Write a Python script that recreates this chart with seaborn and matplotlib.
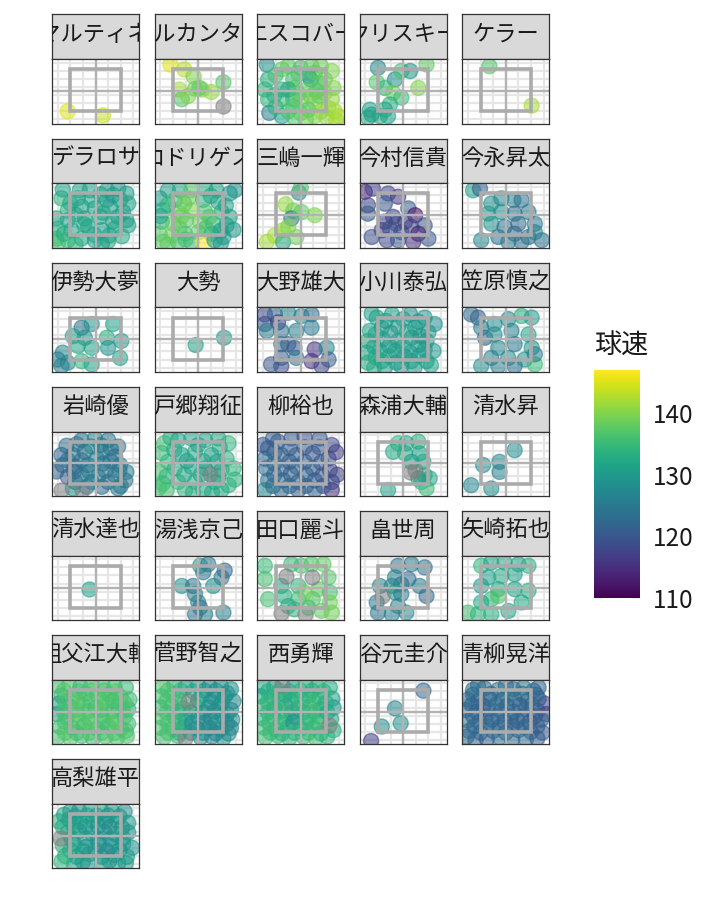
import numpy as np
import pandas as pd
import matplotlib
matplotlib.use("Agg")
import matplotlib.pyplot as plt
import seaborn as sns
from matplotlib.colors import Normalize
from matplotlib.cm import ScalarMappable
from matplotlib.patches import Rectangle

sns.set_theme(style="white")
plt.rcParams["font.family"] = ["Noto Sans CJK JP", "DejaVu Sans"]

NA = np.nan

pitchers = ["R.マルティネス", "アルカンタラ", "エスコバー", "クリスキー", "ケラー",
            "デラロサ", "ロドリゲス", "三嶋一輝", "今村信貴", "今永昇太",
            "伊勢大夢", "大勢", "大野雄大", "小川泰弘", "小笠原慎之介",
            "岩崎優", "戸郷翔征", "柳裕也", "森浦大輔", "清水昇",
            "清水達也", "湯浅京己", "田口麗斗", "畠世周", "矢崎拓也",
            "祖父江大輔", "菅野智之", "西勇輝", "谷元圭介", "青柳晃洋",
            "高梨雄平"]

# (horizontal location, vertical location, speed km/h); NA = speed missing
p01 = [(-2.2, -2.5, 145), (0.6, -3.0, 144)]
p02 = [(-2.2, 3.3, 145), (-1.1, 2.7, 143), (-0.35, 1.8, 140), (2.0, 1.1, 137),
       (-1.5, 0.2, 142), (-0.25, 0.3, 139), (0.3, 0.2, 140), (1.05, -0.1, 141),
       (-1.3, -1.0, 137), (-0.8, -0.6, 140), (2.0, -1.8, NA), (0.1, 0.4, 138)]
p03 = [(-2.7, 3.3, 128), (-2.6, 1.45, 133), (-2.85, 0.2, 134), (-1.5, 0.2, 133),
       (-2.6, -1.0, 134), (-2.5, -2.7, 126), (-1.5, -3.1, 131), (-1.5, 2.7, 138),
       (-1.0, 3.1, 138), (0.0, 2.9, 136), (0.85, 3.1, 138), (1.6, 3.1, 139),
       (2.45, 2.5, 140), (1.9, 1.45, 139), (0.8, 1.45, 130), (0.6, 1.9, 131),
       (-0.6, 1.45, 136), (-0.5, 0.4, 137), (0.45, 0.2, 138), (1.25, 0.0, 137),
       (1.9, -0.2, 140), (2.45, -1.0, 141), (-0.6, -1.0, 133), (0.0, -1.25, 139),
       (1.1, -1.45, 140), (2.2, -2.1, 141), (3.0, -3.1, 143), (2.7, -2.5, 142),
       (-1.0, -2.5, 136), (0.0, -2.7, 139), (1.1, -3.1, 140), (2.05, -3.3, 141),
       (-0.5, -3.3, 137), (0.6, -2.3, 137), (1.5, -0.6, 138), (-1.5, -1.0, 135),
       (-1.0, 0.2, 132), (1.5, 1.0, 137), (-2.0, 2.0, 136), (-0.2, 2.2, 137),
       (1.1, 2.3, 138), (-2.1, -0.5, 133), (-0.2, -0.3, 138), (0.8, -0.6, 139),
       (2.6, 0.4, 140), (-2.0, -2.0, 134), (1.6, -2.5, 141), (0.4, -3.5, 139),
       (2.8, -3.6, 142), (-0.6, -1.9, 137)]
p04 = [(-2.0, 2.9, 127), (-0.65, 1.45, 128), (-0.15, 2.5, 136), (0.55, 2.5, 129),
       (1.85, 3.3, 138), (1.2, 0.4, 140), (-2.1, 1.1, 137), (-1.45, 0.4, 134),
       (-0.8, -0.2, 139), (-0.15, -0.8, 135), (-1.05, -1.65, 133), (-1.45, -2.3, 132),
       (-2.65, -2.3, 131), (-2.8, -3.3, 133), (-1.85, -3.1, 133), (-1.2, -3.1, 131),
       (-2.5, -2.9, 130)]
p05 = [(-1.3, 3.1, 137), (2.05, -1.8, 142)]
p06 = [(-2.7, 2.1, 134), (-1.25, 3.1, 131), (-0.45, 3.1, 131), (0.9, 3.1, 131),
       (1.8, 3.3, 130), (2.45, 2.7, 130), (-1.4, 2.1, 131), (-0.3, 1.9, 132),
       (0.9, 1.9, 131), (1.95, 1.9, 132), (2.6, 1.45, 131), (-2.2, 0.6, 133),
       (-1.1, 1.05, 131), (-0.05, 0.85, 131), (1.15, 1.05, 130), (2.2, 0.4, 131),
       (-3.1, -0.4, 132), (-2.2, -0.6, 131), (-0.85, -0.4, 132), (0.35, -0.2, 131),
       (1.4, -0.8, 131), (2.45, -0.6, 130), (-3.0, -1.65, 133), (-1.9, -1.85, 131),
       (-0.6, -1.45, 131), (0.5, -1.85, 130), (1.55, -1.65, 132), (2.6, -1.25, 131),
       (-3.1, -2.9, 135), (-2.2, -3.1, 135), (-1.1, -2.9, 132), (-0.05, -3.1, 131),
       (1.0, -3.2, 132), (-3.0, -3.5, 136), (-2.6, 3.2, 131), (-2.0, 1.5, 132),
       (0.4, 2.6, 131), (1.4, 2.5, 130), (-1.6, 0.1, 131), (0.6, 0.3, 132),
       (1.8, -0.2, 131), (-2.5, -2.3, 133), (-0.1, -2.4, 131), (1.1, -2.5, 131),
       (2.1, -2.6, 132), (-1.6, -3.6, 134), (0.5, -3.6, 131), (-0.9, -1.1, 132)]
p07 = [(-3.05, 2.1, 131), (-2.4, 3.1, 130), (-1.45, 3.1, 132), (-0.55, 3.1, 137),
       (0.55, 3.3, 133), (1.45, 3.1, 131), (2.5, 2.7, 130), (-1.85, 1.9, 136),
       (-0.8, 2.1, 139), (0.4, 1.9, 134), (1.6, 1.65, 131), (-2.8, 0.6, 131),
       (-1.6, 0.4, 138), (-0.55, 0.6, 140), (0.55, 0.4, 136), (1.85, 0.4, 133),
       (2.5, -0.2, 131), (-2.9, -0.8, 134), (-2.0, -1.05, 138), (-0.95, -0.6, 137),
       (0.15, -0.8, 139), (1.2, -1.05, 134), (2.25, -1.25, 131), (-3.05, -2.3, 137),
       (-2.1, -2.5, 139), (-1.05, -2.3, 135), (0.0, -2.1, 138), (1.05, -2.3, 132),
       (2.0, -2.7, 130), (-2.8, -3.3, 138), (-1.6, -3.3, 136), (-0.55, -3.3, 135),
       (0.4, -3.3, 147), (1.3, -3.1, 131), (2.9, 3.1, 129), (-2.4, 1.3, 134),
       (-1.1, 1.4, 138), (1.0, 2.4, 132), (2.2, 1.2, 131), (-3.0, -0.1, 132),
       (-1.3, -0.1, 139), (0.9, -0.2, 137), (-1.5, -1.6, 138), (0.6, -1.6, 136),
       (1.8, -1.9, 131), (-2.4, -3.6, 138), (-1.0, -3.0, 136), (1.8, -3.5, 130),
       (2.8, -1.8, 130)]
p08 = [(-0.15, 2.8, 127), (0.0, 3.4, 137), (-1.2, 1.35, 141), (-0.6, 0.55, 139),
       (-0.75, -0.4, 124), (1.1, 0.0, 140), (-1.4, -1.85, 141), (-2.05, -2.5, 142),
       (-2.7, -3.3, 142), (-1.4, -3.3, 132), (-0.35, -2.7, 139), (-1.0, -1.45, 140),
       (0.05, 0.4, 138)]
p09 = [(-3.05, 2.9, 114), (-2.4, 3.3, 117), (-1.2, 2.7, 118), (-0.4, 2.3, 116),
       (-2.8, 1.25, 118), (-1.45, 1.45, 120), (0.4, 0.85, 121), (-2.8, 0.2, 120),
       (-0.8, -0.2, 118), (0.95, 0.0, 112), (-1.45, -0.8, 117), (-0.55, -1.05, 118),
       (0.65, -1.45, 118), (1.7, -1.25, 120), (-1.7, -1.85, 117), (-0.15, -2.1, 118),
       (1.2, -2.3, 113), (-2.5, -2.7, 119), (-1.3, -3.1, 118), (-0.4, -3.1, 120),
       (0.8, -3.3, 115), (2.0, -2.9, 120), (-1.05, -1.65, 119), (0.15, -0.8, 117)]
p10 = [(-2.6, 3.1, 131), (-2.05, 3.3, 121), (-1.15, 1.45, 128), (-0.35, 2.1, 127),
       (0.6, 1.9, 126), (1.25, 1.9, 124), (-1.4, 0.2, 130), (-0.35, 0.4, 128),
       (0.7, 0.2, 124), (1.8, 0.4, 125), (-1.15, -1.05, 129), (-0.1, -1.45, 124),
       (1.0, -1.05, 123), (2.3, -1.05, 125), (-1.95, -3.1, 127), (-0.6, -2.7, 124),
       (0.7, -2.3, 122), (1.8, -2.7, 123), (2.85, -3.1, 124), (2.3, -2.1, 126),
       (1.25, -3.3, 124), (0.2, -3.3, 125)]
p11 = [(-1.1, 1.45, 124), (-0.3, 1.9, 129), (1.4, 1.9, 131), (-1.8, 0.4, 131),
       (-0.85, 0.2, 129), (0.9, 0.2, 133), (2.05, -0.2, 130), (-2.6, -1.65, 127),
       (-1.4, -0.8, 132), (-0.3, -1.05, 131), (1.0, -1.05, 129), (1.95, -2.3, 131),
       (-3.0, -2.5, 125), (-2.2, -2.9, 128), (-1.1, -2.7, 134), (-0.3, -3.1, 131),
       (-2.7, -3.3, 126)]
p12 = [(-0.2, -0.7, 131), (2.05, 0.2, 130)]
p13 = [(-2.85, 3.1, 118), (-2.05, 3.1, 122), (-1.0, 3.3, 127), (0.05, 2.9, 126),
       (0.85, 3.1, 124), (-2.85, 1.9, 119), (-1.8, 2.1, 116), (-2.7, 1.05, 126),
       (-1.55, 1.05, 124), (-0.35, 1.05, 126), (0.85, 1.45, 125), (-1.55, -0.6, 122),
       (-0.5, -1.05, 120), (1.1, -1.25, 116), (2.05, -1.05, 127), (-1.55, -2.3, 121),
       (-0.35, -2.3, 124), (0.85, -2.7, 115), (2.2, -2.5, 121), (-1.55, -3.3, 119),
       (-2.35, -3.1, 120), (1.65, -3.3, 118), (-1.0, -0.6, 121)]
p14 = [(-2.1, 2.7, 130), (-0.9, 3.1, 131), (0.55, 3.1, 129), (1.7, 2.7, 130),
       (-2.65, 1.05, 132), (-1.7, 1.45, 130), (-0.4, 1.65, 129), (0.95, 1.45, 131),
       (2.0, 0.85, 130), (-2.8, -0.2, 133), (-1.6, 0.0, 131), (-0.4, -0.2, 130),
       (0.65, 0.2, 129), (1.85, -0.2, 130), (-2.9, -1.65, 132), (-1.85, -1.45, 131),
       (-0.65, -1.45, 130), (0.55, -1.65, 129), (1.7, -1.25, 131), (-2.8, -2.9, 133),
       (-1.7, -2.7, 132), (-0.55, -2.9, 130), (0.65, -2.7, 131), (1.85, -2.7, 130),
       (-1.45, -3.5, 131), (-0.15, -3.3, 130), (2.5, 1.9, 128), (2.4, -1.45, 129),
       (-2.5, 3.2, 131), (-1.4, 2.3, 130), (0.0, 2.5, 130), (1.2, 2.2, 129),
       (-2.2, 0.6, 131), (-1.0, 0.8, 130), (0.3, 0.9, 131), (1.4, 0.4, 129),
       (-2.3, -0.9, 131), (-1.1, -0.8, 130), (0.0, -0.9, 131), (1.2, -0.7, 130),
       (-2.2, -2.2, 132), (-1.1, -2.1, 131), (0.1, -2.1, 130), (1.3, -2.0, 130),
       (-2.3, -3.5, 132), (0.9, -3.5, 130), (2.2, -3.2, 131)]
p15 = [(-2.75, 3.1, 123), (-2.2, 2.7, 121), (-0.9, 1.9, 128), (0.2, 2.5, 127),
       (1.25, 2.9, 133), (2.05, 2.7, 130), (-1.65, 0.2, 122), (-0.9, 0.6, 128),
       (0.45, 1.05, 126), (1.8, 0.6, 131), (-0.6, -1.05, 127), (0.7, -0.6, 125),
       (2.05, -1.05, 129), (-1.15, -2.3, 126), (0.2, -2.3, 127), (1.5, -2.5, 128),
       (2.3, -3.1, 135), (-1.95, -3.3, 128), (-0.6, -3.3, 126), (0.7, -3.3, 124),
       (2.3, -1.85, 126), (-1.95, 1.45, 125)]
p16 = [(-1.1, 2.9, 124), (-0.05, 3.1, 126), (1.0, 2.9, 124), (1.8, 2.1, 125),
       (-2.7, 1.05, 122), (-1.8, 1.05, 125), (-0.85, 1.45, 124), (0.5, 1.45, 126),
       (1.55, 0.85, 123), (-2.6, -0.2, 123), (-1.65, -0.4, 120), (-0.6, -0.2, 125),
       (0.6, 0.0, 124), (1.95, -0.2, 125), (2.45, -1.05, 126), (-2.2, -1.65, 120),
       (-1.1, -1.45, 125), (0.2, -1.65, 126), (1.55, -1.45, 124), (-2.7, -3.3, NA),
       (-1.8, -3.1, 130), (-0.7, -2.9, 125), (0.5, -2.9, 123), (1.8, -3.1, 125),
       (-1.1, -3.3, NA), (2.35, -2.1, 124), (-0.3, 2.1, 127), (-2.3, 2.2, 123),
       (-1.5, 2.4, 124), (0.4, 2.3, 125), (1.2, 1.9, 124), (-2.2, 0.4, 123),
       (-1.1, 0.4, 124), (0.1, 0.6, 125), (1.2, 0.3, 124), (-1.7, -1.0, 123),
       (-0.5, -1.0, 125), (0.8, -0.9, 124), (1.9, -0.9, 125), (-1.6, -2.3, 124),
       (-0.3, -2.3, 125), (1.0, -2.3, 124), (2.0, -2.8, 125), (-3.1, -1.0, 122)]
p17 = [(-2.7, 2.5, 136), (-1.6, 2.9, 131), (-0.55, 3.1, 132), (0.55, 2.9, 131),
       (1.6, 3.1, 132), (2.4, 2.5, 134), (-2.4, 0.2, 134), (-1.3, 1.05, 131),
       (-0.25, 1.45, 132), (1.05, 1.05, 131), (2.25, 0.6, 133), (-3.05, -1.05, 136),
       (-1.85, -0.6, 133), (-0.55, -0.4, 131), (0.55, -0.6, 130), (1.85, -0.8, 132),
       (-2.8, -2.5, 135), (-1.6, -2.3, 134), (-0.25, -2.3, 133), (0.95, -1.25, NA),
       (1.3, -2.3, 131), (2.4, -2.7, 133), (-2.5, -3.3, 136), (-1.05, -3.3, 134),
       (0.4, -3.3, 132), (1.85, -3.3, 133), (2.8, -0.6, 134), (-2.2, 3.2, 133),
       (0.0, 2.3, 131), (1.7, 2.0, 132), (-2.9, 1.3, 135), (-1.9, 1.7, 132),
       (0.4, 0.3, 131), (1.5, 0.2, 131), (-0.9, 0.3, 131), (-2.5, -1.6, 134),
       (-1.1, -1.4, 132), (0.2, -1.4, 131), (1.6, -1.6, 132), (-3.1, -3.0, 136),
       (2.9, -2.0, 134), (-0.4, -3.6, 133), (1.1, -3.6, 132)]
p18 = [(-2.6, 1.9, 121), (-1.8, 2.7, 121), (-0.75, 3.1, 120), (0.3, 3.3, 119),
       (1.5, 3.1, 120), (2.45, 2.3, 118), (-2.85, 0.6, 122), (-1.55, 1.05, 122),
       (-0.35, 1.05, 121), (0.95, 1.25, 120), (2.2, 0.6, 119), (-2.75, -0.6, 123),
       (-1.55, -0.6, 121), (-0.35, -0.4, 122), (0.95, -0.6, 121), (2.3, -0.8, 118),
       (-2.6, -2.1, 124), (-1.4, -2.1, 122), (-0.2, -2.3, 121), (1.1, -2.1, 121),
       (2.45, -2.3, 120), (-2.85, -3.3, 127), (-1.55, -3.3, 122), (-0.2, -3.3, 121),
       (1.1, -3.3, 122), (2.45, -3.3, 115), (-2.2, 3.1, 121), (-3.0, 2.3, 120),
       (-2.1, 1.4, 121), (-0.9, 1.9, 121), (0.3, 2.0, 120), (1.5, 2.0, 120),
       (2.8, 1.4, 117), (-2.1, 0.0, 122), (-0.9, 0.2, 121), (0.3, 0.2, 121),
       (1.6, 0.1, 120), (-2.1, -1.4, 122), (-0.8, -1.3, 121), (0.4, -1.4, 121),
       (1.7, -1.5, 120), (2.9, -1.4, 117), (-2.2, -2.8, 123), (-0.9, -2.8, 122),
       (0.4, -2.8, 121), (1.8, -2.8, 120)]
p19 = [(-0.4, 2.5, 134), (1.2, 2.7, 133), (0.15, 1.25, 133), (-0.8, 1.45, 132),
       (1.3, 1.25, 131), (0.65, 0.2, 130), (1.6, 0.2, 132), (0.95, -0.8, NA),
       (0.5, -1.05, NA), (1.7, -1.45, 133), (1.45, -2.3, 134), (2.1, -1.85, 132),
       (1.85, -3.1, 135), (-1.2, -3.3, 131), (1.2, -1.85, 130), (0.25, 2.5, 131)]
p20 = [(0.7, 1.65, 128), (-1.8, -0.2, 128), (-0.5, 0.2, 127), (-0.5, -1.05, 126),
       (-2.75, -2.7, 127), (-1.15, -3.1, 128)]
p21 = [(-0.55, -0.2, 131)]
p22 = [(0.15, 2.7, 130), (0.8, 2.9, 125), (2.1, 2.1, 122), (1.85, 1.25, 124),
       (-1.3, 0.2, 129), (-0.4, 0.2, 124), (1.2, 0.2, 128), (-0.25, -0.8, 125),
       (0.0, -1.85, 126), (0.15, -2.5, 123), (-0.25, -3.3, 124), (0.55, -3.3, 126),
       (2.0, -3.1, 126), (0.4, 1.9, 124)]
p23 = [(-2.85, 2.7, 135), (-2.85, 1.05, 136), (-2.6, -1.45, 136), (-1.55, 0.2, 132),
       (-1.15, 1.45, NA), (0.05, 2.7, 136), (0.85, 2.9, 137), (1.8, 2.9, 138),
       (2.2, 1.25, 137), (0.85, 1.25, NA), (-0.2, 0.2, 134), (1.4, -0.2, 138),
       (2.3, -0.6, 136), (-1.3, -1.05, 133), (-0.2, -1.45, 135), (0.95, -1.45, 137),
       (2.3, -1.85, 139), (-1.55, -3.1, NA), (-0.5, -2.7, 134), (0.6, -2.5, 136),
       (1.65, -2.9, 138), (2.45, -3.1, 139), (0.3, -3.3, NA), (-1.0, -2.3, 133),
       (0.3, -0.6, 139), (-0.75, 2.9, 135)]
p24 = [(-0.4, 2.7, 124), (0.65, 2.9, 125), (1.7, 2.5, 124), (-0.65, 1.25, 126),
       (0.4, 1.05, 123), (-0.15, 0.4, 124), (-1.85, 0.2, 126), (-0.9, 0.2, 127),
       (1.3, 0.2, 125), (1.85, -1.05, 122), (-1.7, -1.05, NA), (-0.65, -0.6, 130),
       (-0.15, -0.8, 125), (-2.1, -1.85, 125), (-0.4, -2.3, 126), (-2.0, -3.1, 124),
       (-0.9, -3.3, 126), (0.25, -3.1, 127)]
p25 = [(-1.95, 2.7, 134), (-1.15, 3.1, 131), (-0.1, 3.1, 132), (1.0, 2.9, 131),
       (1.8, 2.7, 133), (-1.4, 1.25, 131), (-0.35, 1.45, 132), (0.7, 1.65, 131),
       (-1.95, 0.2, 130), (-0.6, -0.2, 132), (0.7, -0.2, 131), (1.8, -0.4, 133),
       (-1.15, -1.45, 134), (-0.6, -1.05, 137), (-1.95, -1.85, 132), (-3.0, -3.1, 136),
       (-2.2, -3.3, 134), (-1.15, -3.3, 133), (0.2, -2.9, 131), (1.25, -1.85, 132)]
p26 = [(-3.0, 3.2, 136), (-2.1, 3.3, 137), (-1.2, 3.1, 135), (-0.3, 3.3, 136),
       (0.6, 3.2, 137), (1.5, 3.1, 136), (2.4, 3.0, 135), (-2.7, 2.0, 134),
       (-1.7, 1.9, 137), (-0.8, 2.2, 136), (0.2, 1.9, 138), (1.1, 2.1, 136),
       (2.0, 1.8, 137), (2.7, 1.5, 135), (-2.9, 1.0, 130), (-2.0, 0.6, 135),
       (-1.0, 0.8, 137), (0.0, 0.5, 136), (0.9, 0.9, 137), (1.8, 0.6, 136),
       (2.6, 0.3, 134), (-3.1, -0.3, 131), (-2.3, -0.7, 136), (-1.4, -0.4, 137),
       (-0.5, -0.8, 138), (0.5, -0.5, 136), (1.4, -0.9, 137), (2.3, -0.6, 136),
       (-2.8, -1.9, 136), (-1.9, -2.0, 137), (-0.9, -1.7, 135), (0.1, -2.1, 137),
       (1.0, -1.8, 136), (2.0, -2.1, 138), (-3.0, -3.2, 136), (-2.0, -3.3, 137),
       (-1.1, -3.0, 136), (-0.2, -3.3, 135), (0.8, -3.1, 137), (1.7, -3.3, 136),
       (2.5, -3.0, 137), (-2.5, 2.6, 137), (-1.3, 2.5, 136), (-0.3, 2.6, 137),
       (0.7, 2.6, 136), (1.6, 2.5, 137), (-2.4, 1.3, 136), (-1.4, 1.3, 137),
       (-0.4, 1.3, 136), (0.5, 1.4, 137), (1.4, 1.3, 136), (2.3, 1.1, 137),
       (-2.5, 0.0, 136), (-1.5, 0.2, 137), (-0.5, 0.1, 136), (0.4, 0.2, 137),
       (1.4, 0.1, 136), (2.2, 0.1, 136), (-2.4, -1.3, 136), (-1.4, -1.2, 137),
       (-0.4, -1.3, 137), (0.6, -1.2, 136), (1.6, -1.3, 137), (2.6, -1.5, 136),
       (-2.4, -2.6, 137), (-1.5, -2.6, 136), (-0.5, -2.6, 137), (0.5, -2.6, 136),
       (1.5, -2.6, 137), (2.4, -2.4, 136)]
p27 = [(-2.8, 3.1, 137), (-1.9, 3.3, 135), (-1.0, 3.0, 130), (0.0, 3.2, 131),
       (0.9, 3.1, 129), (1.8, 3.2, 128), (2.6, 2.8, 129), (-2.9, 1.9, 136),
       (-2.0, 2.0, 137), (-0.8, 1.3, NA), (0.3, 2.0, 134), (1.2, 1.8, 128),
       (2.1, 1.9, 130), (2.8, 1.3, 128), (-3.0, 0.5, 135), (-2.1, 0.7, 136),
       (-1.2, 0.4, 133), (-0.2, 0.6, 136), (0.8, 0.5, 130), (1.7, 0.7, 128),
       (2.6, 0.2, 127), (-2.8, -0.8, 137), (-1.9, -0.6, 135), (-1.0, -0.9, 129),
       (0.0, -0.7, 128), (1.0, -0.8, 127), (1.9, -0.5, 129), (2.7, -1.0, 128),
       (-3.0, -2.0, 136), (-2.0, -2.2, 137), (-1.1, -1.9, 130), (-0.1, -2.1, 128),
       (0.9, -2.0, 127), (1.8, -2.2, 128), (2.6, -2.0, 126), (-2.7, -3.2, 136),
       (-1.6, -3.0, 135), (-1.05, -3.3, NA), (0.2, -3.2, 128), (1.1, -3.1, 127),
       (2.0, -3.3, 129), (-2.4, 2.6, 136), (-1.4, 2.6, 134), (-0.4, 2.5, 131),
       (0.5, 2.6, 129), (1.4, 2.6, 128), (2.3, 2.3, 128), (-2.5, 1.3, 136),
       (-1.5, 1.3, 135), (0.0, 1.4, 131), (1.0, 1.2, 128), (1.9, 1.2, 129),
       (-2.5, -0.1, 136), (-1.6, 0.0, 134), (-0.6, -0.1, 131), (0.4, -0.1, 128),
       (1.3, 0.0, 128), (2.3, -0.3, 128), (-2.4, -1.4, 136), (-1.5, -1.3, 134),
       (-0.5, -1.4, 128), (0.5, -1.4, 127), (1.4, -1.4, 128), (2.3, -1.5, 127),
       (-2.4, -2.6, 136), (-1.5, -2.6, 134), (-0.6, -2.6, 129), (0.4, -2.6, 128),
       (1.4, -2.7, 127), (2.4, -2.7, 128)]
p28 = [(-3.0, 3.1, 133), (-2.1, 3.0, 130), (-1.5, 3.3, NA), (-0.6, 3.1, 131),
       (0.4, 3.2, 134), (1.3, 3.1, 133), (2.3, 3.0, 132), (-3.2, 1.9, 131),
       (-2.3, 1.8, 134), (-1.3, 2.1, 133), (-0.4, 1.9, 135), (0.6, 2.0, 132),
       (1.5, 1.8, 134), (2.5, 1.6, 131), (-3.0, 0.6, 135), (-2.1, 0.4, 133),
       (-1.2, 0.7, 128), (-0.2, 0.4, 134), (0.7, 0.6, 135), (1.6, 0.3, 133),
       (2.6, 0.5, 130), (-3.1, -0.8, 134), (-2.2, -0.6, 135), (-1.3, -0.9, 133),
       (-0.4, -0.7, 128), (0.6, -0.8, 134), (1.5, -0.6, 135), (2.4, -0.9, 132),
       (-2.9, -2.0, 135), (-2.0, -2.2, 136), (-1.0, -1.9, 134), (0.0, -2.1, 133),
       (1.0, -2.0, 135), (2.2, -1.65, NA), (2.6, -2.3, 133), (-2.8, -3.2, 136),
       (-1.8, -3.0, 135), (-0.9, -3.3, 134), (0.2, -3.1, 135), (1.2, -3.3, 136),
       (2.1, -3.1, 134), (-2.6, 2.5, 133), (-1.7, 2.6, 134), (-0.9, 2.5, 132),
       (0.0, 2.6, 134), (0.9, 2.6, 133), (1.8, 2.5, 134), (-2.6, 1.2, 134),
       (-1.7, 1.3, 134), (-0.8, 1.3, 133), (0.1, 1.3, 134), (1.0, 1.3, 135),
       (2.0, 1.1, 133), (-2.6, -0.1, 134), (-1.6, 0.0, 135), (-0.7, -0.1, 133),
       (0.2, -0.1, 134), (1.1, 0.0, 135), (2.1, -0.1, 132), (-2.5, -1.4, 135),
       (-1.6, -1.4, 134), (-0.6, -1.3, 129), (0.4, -1.4, 134), (1.3, -1.4, 135),
       (-2.4, -2.6, 135), (-1.5, -2.7, 134), (-0.5, -2.6, 134), (0.6, -2.6, 135),
       (1.6, -2.7, 134)]
p29 = [(1.6, 2.6, 122), (-0.65, 0.4, 127), (-0.2, -1.45, 128), (-1.7, -1.85, 128),
       (-2.55, -3.65, 117)]
p30 = [(-2.6, 2.7, 124), (-1.7, 2.9, 123), (-0.6, 2.7, 124), (0.6, 2.8, 122),
       (1.4, 3.0, 125), (2.2, 2.6, 124), (-3.0, 1.5, 122), (-2.2, 1.3, 121),
       (-1.3, 1.6, 123), (-0.3, 1.4, 122), (0.7, 1.5, 123), (1.7, 1.3, 124),
       (2.6, 1.6, 121), (3.1, 1.0, 118), (-3.2, 0.2, 123), (-2.3, 0.0, 121),
       (-1.4, 0.3, 122), (-0.4, 0.1, 121), (0.6, 0.0, 123), (1.6, 0.3, 122),
       (2.5, 0.1, 120), (3.2, -0.3, 117), (-3.0, -1.1, 124), (-2.1, -1.3, 122),
       (-1.1, -1.0, 121), (-0.1, -1.2, 122), (0.9, -1.1, 123), (1.9, -1.3, 121),
       (2.8, -1.0, 122), (-2.9, -2.4, 123), (-2.0, -2.6, 121), (-1.0, -2.4, 122),
       (0.0, -2.6, 123), (1.0, -2.3, 121), (2.0, -2.5, 122), (2.9, -2.6, 120),
       (-2.4, -3.5, 122), (-1.5, -3.4, 121), (0.5, -3.5, 122), (1.6, -3.4, 123),
       (-2.2, 3.2, 123), (0.0, 3.2, 123), (2.6, 3.0, 122), (-2.6, 2.1, 123),
       (-1.2, 2.2, 122), (0.1, 2.0, 124), (1.3, 2.2, 123), (2.4, 2.1, 122),
       (-2.7, 0.8, 122), (-1.8, 0.7, 121), (-0.8, 0.8, 123), (0.1, 0.7, 122),
       (1.1, 0.8, 121), (2.1, 0.8, 122), (-2.6, -0.5, 122), (-1.6, -0.6, 121),
       (-0.6, -0.6, 123), (0.4, -0.6, 122), (1.4, -0.6, 121), (2.3, -0.6, 120),
       (-2.5, -1.8, 122), (-1.5, -1.8, 123), (-0.5, -1.9, 122), (0.5, -1.8, 121),
       (1.5, -1.9, 122), (2.5, -1.8, 121), (-3.1, -3.1, 122), (-0.5, -3.2, 123),
       (2.5, -3.3, 121)]
p31 = [(-2.0, 3.0, 130), (-1.3, 3.1, 129), (-0.4, 3.2, 131), (0.5, 3.0, 133),
       (1.3, 3.1, 130), (2.3, 3.0, 128), (-2.9, 1.8, 134), (-2.1, 2.0, 130),
       (-1.2, 1.7, 131), (-0.2, 1.9, 130), (0.8, 1.8, 129), (1.7, 1.9, 131),
       (2.6, 1.6, 130), (-2.8, -0.3, NA), (-2.2, 0.4, 133), (-1.3, 0.6, 129),
       (-0.3, 0.3, 130), (0.7, 0.5, 128), (1.6, 0.2, 130), (2.6, 0.4, 129),
       (-2.6, -1.2, 134), (-1.7, -1.0, 131), (-0.8, -1.4, 128), (0.3, -1.1, 129),
       (1.2, -1.3, 127), (2.2, -1.0, 130), (2.9, -1.5, 129), (-2.4, -2.5, 133),
       (-1.5, -2.6, 131), (-0.5, -2.3, 130), (0.5, -2.6, 129), (1.5, -2.4, 128),
       (2.5, -2.6, 130), (-1.7, -3.5, 131), (-0.6, -3.4, 129), (0.6, -3.5, 131),
       (1.8, -3.4, 130), (-2.5, 2.6, 131), (-1.6, 2.4, 130), (-0.7, 2.5, 131),
       (0.1, 2.5, 130), (1.0, 2.5, 129), (1.9, 2.4, 130), (-2.6, 1.1, 132),
       (-1.7, 1.2, 131), (-0.8, 1.1, 130), (0.2, 1.2, 129), (1.1, 1.1, 128),
       (2.1, 1.0, 129), (-1.9, -0.4, 131), (-0.8, -0.3, 130), (0.2, -0.4, 128),
       (1.2, -0.4, 129), (2.2, -0.3, 130), (-2.0, -1.8, 132), (-1.0, -1.9, 130),
       (0.0, -1.8, 129), (0.9, -1.9, 128), (1.9, -1.8, 129), (-2.7, -3.2, 134),
       (-1.0, -3.2, 130), (1.1, -3.1, 129), (2.4, -3.4, 130)]

pitches = [p01, p02, p03, p04, p05, p06, p07, p08, p09, p10, p11, p12, p13, p14,
           p15, p16, p17, p18, p19, p20, p21, p22, p23, p24, p25, p26, p27, p28,
           p29, p30, p31]

zone_x = (-2.0, 2.0)
zone_y = (-2.5, 2.7)
speed_range = (110, 147)
cbar_ticks = [110, 120, 130, 140]

frames = []
for name, pts in zip(pitchers, pitches):
    d = pd.DataFrame(pts, columns=["x", "y", "球速"])
    d["投手"] = name
    frames.append(d)
df = pd.concat(frames, ignore_index=True)

W, H = 720, 921
fig = plt.figure(figsize=(W / 100, H / 100), dpi=100)


def frac(x, y, w, h):
    return [x / W, 1 - (y + h) / H, w / W, h / H]


col_left = [52, 154.7, 257.3, 359.7, 462.3]
panel_w = 87
row_top0, row_pitch = 14.5, 124.1
strip_h, panel_h = 44.8, 64.5
edge = "#333333"
pt_size = 118
pt_alpha = 0.55

for i, name in enumerate(pitchers):
    r, c = divmod(i, 5)
    top = row_top0 + r * row_pitch
    sax = fig.add_axes(frac(col_left[c], top, panel_w, strip_h))
    sax.set_facecolor("#D9D9D9")
    sax.set_xticks([]); sax.set_yticks([])
    for s in sax.spines.values():
        s.set_color(edge); s.set_linewidth(0.9)
    sax.text(0.5, 0.56, name, transform=sax.transAxes, ha="center", va="center",
             fontsize=16, color="#1A1A1A", clip_on=True)

    ax = fig.add_axes(frac(col_left[c], top + strip_h, panel_w, panel_h))
    ax.set_facecolor("white")
    for gx in range(-3, 4):
        ax.axvline(gx, color="#E6E6E6", lw=1.6, zorder=0.5)
    for gy in np.arange(-3.5, 4.0, 1.0):
        ax.axhline(gy, color="#E6E6E6", lw=1.6, zorder=0.5)
    sub = df[df["投手"] == name]
    ok = sub[sub["球速"].notna()]
    na = sub[sub["球速"].isna()]
    if len(ok):
        sns.scatterplot(data=ok, x="x", y="y", hue="球速", palette="viridis",
                        hue_norm=speed_range, s=pt_size, alpha=pt_alpha,
                        edgecolor="face", linewidth=1.0, legend=False, ax=ax, zorder=2)
    if len(na):
        sns.scatterplot(data=na, x="x", y="y", color="#7F7F7F", s=pt_size,
                        alpha=pt_alpha, edgecolor="face", linewidth=1.0,
                        legend=False, ax=ax, zorder=2)
    ax.axvline(0, color="#B3B3B3", lw=1.7, zorder=3)
    ax.axhline(0, color="#B3B3B3", lw=1.7, zorder=3)
    ax.add_patch(Rectangle((zone_x[0], zone_y[0]), zone_x[1] - zone_x[0],
                           zone_y[1] - zone_y[0], fill=False, ec="#ABABAB",
                           lw=2.6, zorder=4))
    ax.set_xlim(-3.45, 3.45)
    ax.set_ylim(-4.05, 3.95)
    ax.set_xticks([]); ax.set_yticks([])
    ax.set_xlabel(""); ax.set_ylabel("")
    for s in ax.spines.values():
        s.set_color(edge); s.set_linewidth(0.9); s.set_zorder(5)

cax = fig.add_axes(frac(594, 370, 46, 228))
sm = ScalarMappable(norm=Normalize(*speed_range), cmap="viridis")
cb = fig.colorbar(sm, cax=cax, ticks=cbar_ticks)
cb.outline.set_visible(False)
cax.tick_params(direction="in", length=6.5, width=1.0, colors="#EEEEEE",
                left=True, right=True, labelleft=False, labelright=True,
                labelsize=17.5, labelcolor="#1A1A1A", pad=9)
cax.set_title("球速", loc="left", fontsize=19.5, pad=12, color="#1A1A1A")

fig.savefig("out.png", dpi=100)
